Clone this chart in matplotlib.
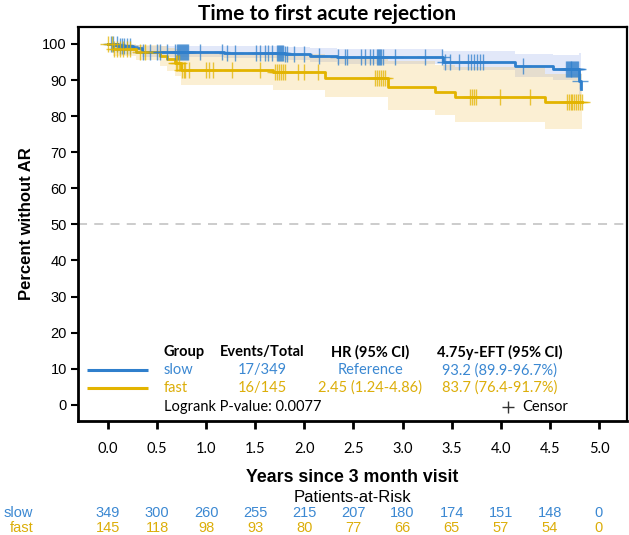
import numpy as np
import matplotlib
matplotlib.use('Agg')
import matplotlib.pyplot as plt
from matplotlib.transforms import blended_transform_factory

# ---- data ----
groups = ['slow', 'fast']

slow_t = [0.00, 0.10, 0.25, 0.35, 1.18, 1.80, 2.06, 2.33, 3.41, 4.14, 4.53, 4.795, 4.815]
slow_s = [100, 99.4, 98.8, 97.9, 97.5, 97.2, 96.8, 96.5, 95.0, 94.0, 93.1, 89.7, 87.6]
slow_hi = [100, 100, 99.8, 99.4, 99.3, 99.1, 98.9, 98.7, 98.0, 97.2, 96.9, 97.6, 97.6]
slow_lo = [100, 98.2, 97.3, 96.3, 96.0, 95.5, 95.0, 94.5, 92.7, 90.8, 89.9, 85.7, 85.7]
slow_end = 4.815
slow_cens = [0.03, 0.05, 0.09, 0.12, 0.14, 0.16, 0.19, 0.22, 0.36, 0.43, 0.50, 0.53, 0.60,
             0.68, 0.70, 0.71, 0.72, 0.73, 0.74, 0.75, 0.76, 0.77, 0.78, 0.79, 0.80, 0.82,
             0.94, 1.16, 1.21, 1.29, 1.51, 1.55, 1.60, 1.63, 1.67,
             1.72, 1.73, 1.74, 1.75, 1.76, 1.77, 1.78, 1.80, 1.82,
             1.89, 2.00, 2.15, 2.34, 2.41, 2.43, 2.58, 2.62, 2.67, 2.70,
             2.74, 2.75, 2.76, 2.77, 2.78, 2.80, 2.92, 3.23, 3.40, 3.43, 3.48, 3.57,
             3.67, 3.70, 3.73, 3.76, 3.79, 3.82, 4.23,
             4.66, 4.67, 4.68, 4.69, 4.70, 4.71, 4.72, 4.73, 4.74, 4.75, 4.76, 4.77,
             4.78, 4.79]
slow_last_cens = (4.81, 89.7)

fast_t = [0.00, 0.05, 0.29, 0.53, 0.60, 0.68, 0.74, 1.68, 2.21, 2.85, 3.33, 3.53, 4.45]
fast_s = [100, 98.7, 97.8, 96.6, 95.7, 94.6, 92.7, 92.2, 90.7, 88.2, 86.8, 85.3, 83.9]
fast_hi = [100, 100, 99.8, 99.3, 99.0, 98.6, 97.6, 97.3, 96.3, 95.2, 94.3, 93.6, 91.7]
fast_lo = [100, 96.7, 95.5, 93.8, 92.6, 91.2, 88.6, 87.3, 85.4, 81.8, 80.2, 78.5, 76.5]
fast_end = 4.83
fast_cens = [0.00, 0.04, 0.06, 0.09, 0.12, 0.15, 0.19, 0.22, 0.33, 0.38,
             0.69, 0.70, 0.72, 0.75, 0.77, 0.78, 0.83,
             1.00, 1.03, 1.07, 1.26, 1.55,
             1.70, 1.72, 1.74, 1.76, 1.78, 1.80, 1.94, 2.00, 2.14,
             2.72, 2.74, 2.76, 2.78, 2.80, 2.82,
             3.69, 3.71, 3.73, 3.75, 3.99, 4.30,
             4.67, 4.69, 4.71, 4.73, 4.75, 4.77, 4.79, 4.81, 4.83]

events = ['17/349', '16/145']
hr = ['Reference', '2.45 (1.24-4.86)']
eft = ['93.2 (89.9-96.7%)', '83.7 (76.4-91.7%)']
logrank = 'Logrank P-value: 0.0077'

risk_times = [0.0, 0.5, 1.0, 1.5, 2.0, 2.5, 3.0, 3.5, 4.0, 4.5, 5.0]
risk_slow = [349, 300, 260, 255, 215, 207, 180, 174, 151, 148, 0]
risk_fast = [145, 118, 98, 93, 80, 77, 66, 65, 57, 54, 0]

blue = '#2f7fcc'
yellow = '#e3b400'
blue_band = '#8ca6eb'
yellow_band = '#f0c050'
blue_txt = '#3b88d2'
yellow_txt = '#dcae0a'

fig = plt.figure(figsize=(6.29, 5.35), dpi=100)
ax = fig.add_axes([0.124, 0.2131, 0.8728, 0.7364])


def surv_at(times, surv, x):
    idx = np.searchsorted(times, x, side='right') - 1
    return np.asarray(surv)[np.clip(idx, 0, len(surv) - 1)]


def draw_group(t, s, hi, lo, end, cens, col, band):
    tt = np.append(t, end)
    ss = np.append(s, s[-1])
    ax.fill_between(tt, np.append(lo, lo[-1]), np.append(hi, hi[-1]),
                    step='post', color=band, alpha=0.25, lw=0)
    ax.step(tt, ss, where='post', color=col, lw=2.0, zorder=4)
    cy = surv_at(t, s, np.array(cens))
    ax.plot(cens, cy, ls='none', marker='+', ms=11.5, mew=1.0,
            color=col, alpha=0.75, zorder=5)


draw_group(slow_t, slow_s, slow_hi, slow_lo, slow_end, slow_cens, blue, blue_band)
draw_group(fast_t, fast_s, fast_hi, fast_lo, fast_end, fast_cens, yellow, yellow_band)
ax.plot([slow_last_cens[0]], [slow_last_cens[1]], ls='none', marker='+', ms=11.5,
        mew=1.0, color=blue, alpha=0.75, zorder=5)

ax.axhline(50, color='#c8c8c8', ls=(0, (5, 4)), lw=1.3, zorder=1)

ax.set_xlim(-0.305, 5.285)
ax.set_ylim(-4.5, 104.7)
ax.set_xticks(risk_times)
ax.set_xticklabels([f'{v:.1f}' for v in risk_times], family='Lato', fontsize=10.5)
ax.set_yticks(range(0, 101, 10))
ax.set_yticklabels([str(v) for v in range(0, 101, 10)], family='Liberation Sans', fontsize=10.5)
ax.tick_params(axis='x', length=6, width=2, pad=9)
ax.tick_params(axis='y', length=5, width=1.5, pad=3)
for sp in ax.spines.values():
    sp.set_linewidth(1.6)
ax.spines['left'].set_linewidth(2)
ax.spines['bottom'].set_linewidth(2)

fig.text(0.52, 0.974, 'Time to first acute rejection', family='Lato', fontweight='bold',
         fontsize=15, ha='center', va='center')
ax.set_ylabel('Percent without AR', family='Liberation Sans', fontweight='bold',
              fontsize=12, labelpad=6)

# legend table
tf = dict(family='Lato', fontsize=10.5)
ax.text(0.57, 14.5, 'Group', fontweight='bold', va='center', ha='left', **tf)
ax.text(1.57, 14.5, 'Events/Total', fontweight='bold', va='center', ha='center', **tf)
ax.text(2.67, 14.5, 'HR (95% CI)', fontweight='bold', va='center', ha='center', **tf)
ax.text(3.99, 14.5, '4.75y-EFT (95% CI)', fontweight='bold', va='center', ha='center', **tf)
for i, (g, col, tcol) in enumerate(zip(groups, [blue, yellow], [blue_txt, yellow_txt])):
    yy = [9.6, 4.7][i]
    ax.plot([-0.21, 0.41], [yy, yy], color=col, lw=2.2, solid_capstyle='butt')
    ax.text(0.57, yy, g, color=tcol, va='center', ha='left', **tf)
    ax.text(1.57, yy, events[i], color=tcol, va='center', ha='center', **tf)
    ax.text(2.67, yy, hr[i], color=tcol, va='center', ha='center', **tf)
    ax.text(3.99, yy, eft[i], color=tcol, va='center', ha='center', **tf)
ax.text(0.57, -0.6, logrank, va='center', ha='left', **tf)
ax.plot([4.07], [-0.6], marker='+', ms=8, mew=1.0, color='#333333', ls='none')
ax.text(4.22, -0.6, 'Censor', va='center', ha='left', **tf)

# x label and risk table
fig.text(0.5605, 0.108, 'Years since 3 month visit', ha='center', va='center',
         family='Liberation Sans', fontweight='bold', fontsize=12.8)
fig.text(0.5605, 0.070, 'Patients-at-Risk', ha='center', va='center',
         family='Liberation Sans', fontsize=12)
tr = blended_transform_factory(ax.transData, fig.transFigure)
for lab, vals, tcol, yy, xl in [('slow', risk_slow, blue_txt, 0.041, 0.005),
                                ('fast', risk_fast, yellow_txt, 0.014, 0.016)]:
    fig.text(xl, yy, lab, color=tcol, ha='left', va='center',
             family='Liberation Sans', fontsize=10.5)
    for x, v in zip(risk_times, vals):
        ax.text(x, yy, str(v), transform=tr, color=tcol, ha='center', va='center',
                family='Liberation Sans', fontsize=10.5, clip_on=False)

fig.savefig('out.png', dpi=100)
